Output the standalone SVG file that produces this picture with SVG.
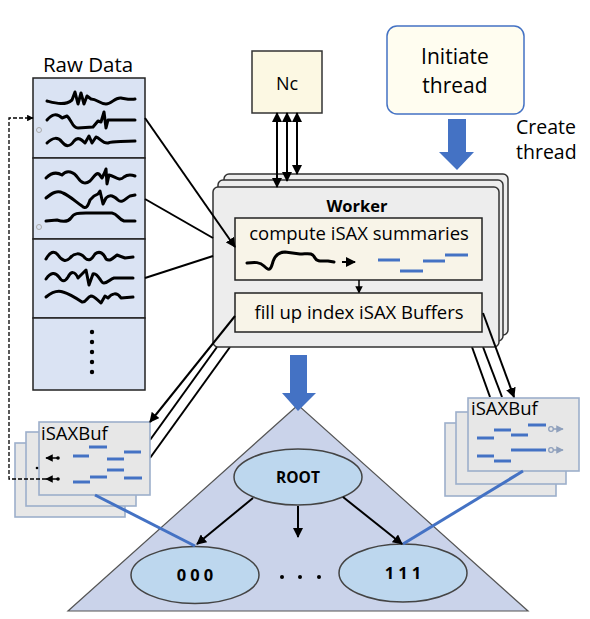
<svg xmlns="http://www.w3.org/2000/svg" width="590" height="619" viewBox="0 0 590 619">
<defs>
<marker id="ah" viewBox="0 0 10 10" refX="9" refY="5" markerWidth="5" markerHeight="5" orient="auto-start-reverse"><path d="M0,0 L10,5 L0,10 z" fill="#000"/></marker>
<marker id="ahg" viewBox="0 0 10 10" refX="9" refY="5" markerWidth="5" markerHeight="5" orient="auto"><path d="M0,0 L10,5 L0,10 z" fill="#8FA0BC"/></marker>
<style>
text{font-family:"Open Sans","Noto Sans","DejaVu Sans",sans-serif;fill:#000}
.wave{fill:none;stroke:#000;stroke-width:3;stroke-linejoin:round;stroke-linecap:round}
.conn{fill:none;stroke:#000;stroke-width:2}
.blue{stroke:#4472C4;stroke-width:3;fill:none}
.dash{stroke:#4472C4;stroke-width:3}
.buf{fill:#E7E7E7;stroke:#9DAFCB;stroke-width:1.6}
.wk{fill:#EDEDED;stroke:#333;stroke-width:1.5}
.inner{fill:#F8F4E8;stroke:#222;stroke-width:1.5}
.ell{fill:#BDD7EE;stroke:#444;stroke-width:1.5}
</style>
</defs>

<!-- Tree triangle -->
<g id="tree">
<polygon points="298,405 68,611 528,611" fill="#CAD3EA" stroke="#555" stroke-width="1.2"/>
</g>

<!-- Raw Data -->
<g id="rawdata">
<text x="88" y="72" font-size="20.5" text-anchor="middle">Raw Data</text>
<rect x="33" y="78" width="112" height="80" fill="#DAE3F3" stroke="#222" stroke-width="1.5"/>
<rect x="33" y="158" width="112" height="81" fill="#DAE3F3" stroke="#222" stroke-width="1.5"/>
<rect x="33" y="239" width="112" height="79" fill="#DAE3F3" stroke="#222" stroke-width="1.5"/>
<rect x="33" y="318" width="112" height="72" fill="#DAE3F3" stroke="#222" stroke-width="1.5"/>
<circle cx="39" cy="130" r="2.5" fill="none" stroke="#aaa" stroke-width="1"/>
<circle cx="39" cy="227" r="2.5" fill="none" stroke="#aaa" stroke-width="1"/>
<path class="wave" d="M47,101 C55,103 65,106 72,100 L75,92 L78,104 L81,93 L84,104 L87,96 L91,99 C97,99 100,104 106,104 C112,104 115,97 121,98 C127,99 131,100 135,99"/>
<path class="wave" d="M47,120 C52,114 57,113 62,118 L67,116 C72,120 72,128 78,128 L93,127 L98,121 L101,122 L104,112 L106,128 L108,120 L135,120"/>
<path class="wave" d="M47,143 C53,137 58,137 62,142 C66,147 70,147 74,141 C78,136 82,140 85,143 L89,136 L92,143 L96,137 C100,138 103,144 108,143 C113,141 118,142 135,141"/>
<path class="wave" d="M46,178 C52,172 57,172 62,175 C67,169 74,172 78,178 C82,184 86,184 90,181 C94,177 96,172 99,174 L102,178 L104,174 L106,169 L107,184 L109,175 C115,176 119,182 124,177 C128,174 132,175 135,176"/>
<path class="wave" d="M46,198 C52,193 57,190 63,193 C70,196 76,202 82,206 C86,210 88,206 90,200 L94,196 L98,194 L100,191 L103,204 L106,198 C110,194 114,196 118,200 C122,204 126,198 130,196 L135,195"/>
<path class="wave" d="M46,221 L57,220 C63,222 68,222 71,218 C74,213 78,213 86,213 L112,213 C118,214 118,219 124,221 L135,221"/>
<path class="wave" d="M46,259 C50,252 54,250 58,255 C62,261 66,262 70,258 C74,253 80,252 85,258 C89,262 92,259 95,254 C100,250 104,254 106,259 C110,262 113,258 117,255 L125,258 L133,257"/>
<path class="wave" d="M46,279 C51,272 55,272 59,277 C62,282 65,282 68,277 C71,271 75,271 78,278 L82,274 L86,270 L89,285 L93,274 C98,272 101,284 104,283 C108,283 110,279 114,278 L133,278"/>
<path class="wave" d="M46,297 C52,292 57,290 63,292 C70,294 76,298 82,302 C86,303 87,297 91,296 C95,296 98,301 101,303 L105,296 L108,298 C112,293 117,292 121,298 L133,297"/>
<circle cx="92" cy="332" r="2.2" fill="#000"/>
<circle cx="92" cy="342" r="2.2" fill="#000"/>
<circle cx="92" cy="352" r="2.2" fill="#000"/>
<circle cx="92" cy="362" r="2.2" fill="#000"/>
<circle cx="92" cy="372" r="2.2" fill="#000"/>
</g>

<!-- Nc -->
<g id="nc">
<rect x="252" y="51" width="70" height="62" fill="#FCF8E3" stroke="#333" stroke-width="1.5"/>
<text x="287" y="90" font-size="18" text-anchor="middle">Nc</text>
</g>

<!-- Initiate thread -->
<g id="initiate">
<rect x="387" y="26" width="137" height="88" rx="10" fill="#FFFDF0" stroke="#4472C4" stroke-width="1.5"/>
<text x="455" y="64" font-size="21" text-anchor="middle">Initiate</text>
<text x="455" y="93" font-size="21" text-anchor="middle">thread</text>
</g>
<g id="create-arrow">
<polygon points="448,119 466,119 466,152 474,152 457,170 439,152 448,152" fill="#4472C4"/>
<text x="516" y="134" font-size="19.5">Create</text>
<text x="516" y="159" font-size="19.5">thread</text>
</g>

<!-- Connectors behind worker -->
<g id="connectors-back">
<line class="conn" x1="217" y1="347" x2="150" y2="440"/>
<line class="conn" x1="230" y1="347" x2="150" y2="458"/>
<line class="conn" x1="472" y1="347" x2="490" y2="397"/>
<line class="conn" x1="483" y1="347" x2="502" y2="397"/>
</g>

<!-- Worker -->
<g id="worker">
<rect class="wk" x="224" y="174" width="284" height="161" rx="5"/>
<rect class="wk" x="218" y="180" width="285" height="161" rx="5"/>
<rect class="wk" x="213" y="187" width="286" height="160" rx="5"/>
<text x="357" y="212" font-size="16.5" font-weight="bold" text-anchor="middle">Worker</text>
<rect class="inner" x="235" y="218" width="247" height="62"/>
<text x="359" y="240" font-size="18.5" text-anchor="middle">compute iSAX summaries</text>
<path class="wave" d="M247,263 C255,262 260,262 264,266 C268,270 270,271 272,265 C274,256 278,252 285,252 L300,254 C308,254 312,252 315,258 C317,262 321,261 328,261 L334,262"/>
<line x1="342" y1="262" x2="355" y2="262" stroke="#000" stroke-width="2" marker-end="url(#ah)"/>
<line class="dash" x1="378" y1="260" x2="400" y2="260"/>
<line class="dash" x1="400" y1="271" x2="423" y2="271"/>
<line class="dash" x1="423" y1="261" x2="445" y2="261"/>
<line class="dash" x1="445" y1="255" x2="468" y2="255"/>
<line x1="359" y1="280" x2="359" y2="293" stroke="#000" stroke-width="1.5" marker-end="url(#ah)"/>
<rect class="inner" x="235" y="293" width="247" height="39"/>
<text x="359" y="319" font-size="18.5" text-anchor="middle">fill up index iSAX Buffers</text>
</g>

<!-- Left iSAXBuf -->
<g id="isaxbuf-left">
<rect class="buf" x="15" y="443" width="110" height="74"/>
<rect class="buf" x="26" y="432" width="110" height="74"/>
<rect class="buf" x="39" y="422" width="111" height="73"/>
<text x="41" y="440" font-size="18.5">iSAXBuf</text>
<line class="dash" x1="73" y1="456" x2="89" y2="456"/>
<line class="dash" x1="89" y1="447" x2="107" y2="447"/>
<line class="dash" x1="107" y1="459" x2="124" y2="459"/>
<line class="dash" x1="124" y1="452" x2="141" y2="452"/>
<line class="dash" x1="73" y1="482" x2="90" y2="482"/>
<line class="dash" x1="90" y1="477" x2="107" y2="477"/>
<line class="dash" x1="107" y1="470" x2="124" y2="470"/>
<line class="dash" x1="124" y1="478" x2="142" y2="478"/>
<circle cx="58" cy="458" r="1.8" fill="#000"/>
<line x1="58" y1="458" x2="46" y2="458" stroke="#000" stroke-width="1.5" marker-end="url(#ah)"/>
<circle cx="58" cy="479" r="1.8" fill="#000"/>
<line x1="58" y1="479" x2="46" y2="479" stroke="#000" stroke-width="1.5" marker-end="url(#ah)"/>
<circle cx="37" cy="468" r="1.3" fill="#000"/>
</g>

<!-- Right iSAXBuf -->
<g id="isaxbuf-right">
<rect class="buf" x="445" y="423" width="111" height="73"/>
<rect class="buf" x="456" y="412" width="110" height="72"/>
<rect class="buf" x="468" y="398" width="111" height="73"/>
<text x="471" y="415" font-size="18.5">iSAXBuf</text>
<line class="dash" x1="477" y1="438" x2="494" y2="438"/>
<line class="dash" x1="494" y1="430" x2="511" y2="430"/>
<line class="dash" x1="511" y1="435" x2="528" y2="435"/>
<line class="dash" x1="528" y1="425" x2="546" y2="425"/>
<line class="dash" x1="477" y1="456" x2="494" y2="456"/>
<line class="dash" x1="494" y1="461" x2="511" y2="461"/>
<line class="dash" x1="511" y1="450" x2="528" y2="450"/>
<line class="dash" x1="528" y1="450" x2="546" y2="450"/>
<circle cx="551" cy="429" r="2.3" fill="none" stroke="#8FA0BC" stroke-width="1.3"/>
<line x1="553" y1="429" x2="563" y2="429" stroke="#8FA0BC" stroke-width="1.5" marker-end="url(#ahg)"/>
<circle cx="551" cy="450" r="2.3" fill="none" stroke="#8FA0BC" stroke-width="1.3"/>
<line x1="553" y1="450" x2="563" y2="450" stroke="#8FA0BC" stroke-width="1.5" marker-end="url(#ahg)"/>
</g>

<!-- Tree nodes -->
<g id="tree-arrow">
<polygon points="290,355 307,355 307,393 316,393 298,411 282,393 290,393" fill="#4472C4"/>
</g>
<g id="root">
<ellipse class="ell" cx="298" cy="477" rx="64" ry="28"/>
<text x="298" y="483" font-size="15.5" font-weight="bold" text-anchor="middle">ROOT</text>
</g>
<g id="node-000">
<ellipse class="ell" cx="195" cy="575" rx="64" ry="28.5"/>
<text x="197" y="581" font-size="16.5" font-weight="bold" text-anchor="middle" letter-spacing="4">000</text>
</g>
<g id="node-111">
<ellipse class="ell" cx="403" cy="573" rx="64" ry="29"/>
<text x="405" y="579" font-size="16.5" font-weight="bold" text-anchor="middle" letter-spacing="4">111</text>
</g>
<g id="ellipsis">
<circle cx="282" cy="577" r="2" fill="#000"/>
<circle cx="300" cy="577" r="2" fill="#000"/>
<circle cx="319" cy="577" r="2" fill="#000"/>
</g>

<!-- Connectors -->
<g id="connectors">
<line class="conn" x1="145" y1="118" x2="235" y2="247" marker-end="url(#ah)"/>
<line class="conn" x1="145" y1="199" x2="213" y2="238"/>
<line class="conn" x1="145" y1="278" x2="213" y2="256"/>
<line class="conn" x1="277" y1="113" x2="277" y2="187" marker-start="url(#ah)" marker-end="url(#ah)"/>
<line class="conn" x1="287" y1="113" x2="287" y2="181" marker-start="url(#ah)" marker-end="url(#ah)"/>
<line class="conn" x1="297" y1="113" x2="297" y2="174" marker-start="url(#ah)" marker-end="url(#ah)"/>
<line class="conn" x1="235" y1="316" x2="150" y2="422" marker-end="url(#ah)"/>
<line class="conn" x1="483" y1="313" x2="514" y2="397" marker-end="url(#ah)"/>
<polyline points="46,479 9,479 9,118 33,118" fill="none" stroke="#000" stroke-width="1.3" stroke-dasharray="4,2" marker-end="url(#ah)"/>
<line class="blue" x1="95" y1="495" x2="195" y2="546"/>
<line class="blue" x1="523" y1="471" x2="403" y2="544"/>
<line class="conn" x1="253" y1="498" x2="197" y2="544" marker-end="url(#ah)"/>
<line class="conn" x1="298" y1="506" x2="298" y2="537" marker-end="url(#ah)"/>
<line class="conn" x1="343" y1="497" x2="402" y2="544" marker-end="url(#ah)"/>
</g>
</svg>
